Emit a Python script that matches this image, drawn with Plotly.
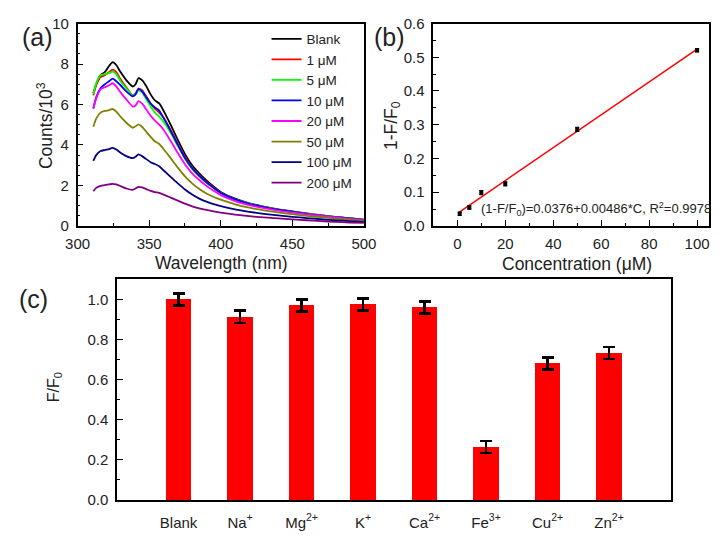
import plotly.graph_objects as go

W, H = 724, 539

# ---------------- Panel (a) data ----------------
wavelength = [311, 313, 316, 319, 322, 324.5, 327, 330, 334, 338.5, 340.5, 342.5, 345, 348, 351, 354, 357, 360,
              365, 370, 375, 380, 385, 390, 395, 400, 410, 420, 430, 440, 450, 460, 470, 480, 490, 500]
series_names = ["Blank", "1 \u03bcM", "5 \u03bcM", "10 \u03bcM", "20 \u03bcM", "50 \u03bcM", "100 \u03bcM", "200 \u03bcM"]
series_colors = ["#000000", "#FF0000", "#00FF00", "#0000FF", "#FF00FF", "#808000", "#000080", "#800080"]
blank = [6.55, 7.0, 7.45, 7.6, 7.9, 8.09, 7.95, 7.6, 7.2, 6.89, 7.0, 7.3, 7.2, 6.9, 6.5, 6.2, 6.05, 5.7,
         5.0, 4.25, 3.55, 3.0, 2.6, 2.25, 1.95, 1.68, 1.35, 1.12, 0.95, 0.82, 0.72, 0.62, 0.53, 0.45, 0.38, 0.31]
um1 = [6.45, 6.95, 7.35, 7.45, 7.6, 7.72, 7.6, 7.25, 6.85, 6.45, 6.55, 6.78, 6.7, 6.4, 6.05, 5.8, 5.6, 5.35,
       4.75, 4.05, 3.4, 2.88, 2.5, 2.17, 1.9, 1.64, 1.32, 1.1, 0.93, 0.8, 0.7, 0.6, 0.52, 0.44, 0.37, 0.3]
um5 = [6.5, 7.05, 7.45, 7.5, 7.55, 7.62, 7.5, 7.15, 6.8, 6.45, 6.5, 6.7, 6.6, 6.25, 5.9, 5.6, 5.4, 5.15,
       4.6, 3.95, 3.32, 2.82, 2.45, 2.13, 1.87, 1.62, 1.31, 1.1, 0.93, 0.8, 0.7, 0.6, 0.52, 0.44, 0.37, 0.3]
um10 = [5.8, 6.35, 6.8, 7.0, 7.15, 7.28, 7.15, 6.95, 6.65, 6.4, 6.5, 6.77, 6.65, 6.35, 6.05, 5.85, 5.7, 5.35,
        4.7, 4.0, 3.35, 2.85, 2.47, 2.15, 1.88, 1.63, 1.31, 1.09, 0.93, 0.8, 0.7, 0.6, 0.51, 0.44, 0.37, 0.3]
um20 = [5.8, 6.3, 6.75, 6.85, 6.95, 7.05, 6.9, 6.6, 6.25, 5.9, 5.95, 6.17, 6.05, 5.75, 5.45, 5.2, 5.0, 4.75,
        4.2, 3.6, 3.05, 2.6, 2.27, 1.98, 1.74, 1.52, 1.23, 1.03, 0.88, 0.76, 0.66, 0.57, 0.49, 0.42, 0.35, 0.28]
um50 = [4.9, 5.3, 5.6, 5.68, 5.72, 5.78, 5.65, 5.4, 5.1, 4.85, 4.92, 5.02, 4.9, 4.65, 4.4, 4.18, 4.05, 3.8,
        3.35, 2.88, 2.45, 2.1, 1.82, 1.6, 1.43, 1.3, 1.07, 0.9, 0.77, 0.67, 0.58, 0.5, 0.43, 0.37, 0.31, 0.25]
um100 = [3.22, 3.5, 3.7, 3.75, 3.8, 3.86, 3.78, 3.62, 3.45, 3.35, 3.42, 3.54, 3.45, 3.3, 3.15, 3.06, 2.95, 2.75,
         2.42, 2.1, 1.8, 1.55, 1.35, 1.2, 1.08, 0.98, 0.82, 0.7, 0.6, 0.52, 0.45, 0.39, 0.33, 0.28, 0.24, 0.2]
um200 = [1.71, 1.88, 1.98, 2.02, 2.05, 2.08, 2.05, 1.97, 1.85, 1.78, 1.85, 1.93, 1.9, 1.82, 1.73, 1.67, 1.63, 1.55,
         1.4, 1.25, 1.1, 0.97, 0.87, 0.79, 0.72, 0.66, 0.56, 0.48, 0.42, 0.37, 0.32, 0.28, 0.24, 0.2, 0.17, 0.15]
spectra = [blank, um1, um5, um10, um20, um50, um100, um200]

# ---------------- Panel (b) data ----------------
conc = [1, 5, 10, 20, 50, 100]
quench = [0.036, 0.055, 0.099, 0.125, 0.286, 0.521]
quench_err = [0.005, 0.005, 0.006, 0.006, 0.006, 0.005]
fit_x = [1, 100]
fit_y = [0.042, 0.524]
fit_label = "(1-F/F<sub>0</sub>)=0.0376+0.00486*C, R<sup>2</sup>=0.9978"

# ---------------- Panel (c) data ----------------
ions = ["Blank", "Na<sup>+</sup>", "Mg<sup>2+</sup>", "K<sup>+</sup>", "Ca<sup>2+</sup>",
        "Fe<sup>3+</sup>", "Cu<sup>2+</sup>", "Zn<sup>2+</sup>"]
ratio = [1.0, 0.913, 0.97, 0.975, 0.96, 0.265, 0.68, 0.733]
ratio_err = [0.03, 0.03, 0.03, 0.03, 0.03, 0.03, 0.03, 0.03]

FONT = "Liberation Sans, Arial, sans-serif"


def px(x):
    return x / W


def py(y):
    return 1 - y / H


fig = go.Figure()

for name, col, vals in zip(series_names, series_colors, spectra):
    fig.add_trace(go.Scatter(x=wavelength, y=vals, mode="lines", name=name,
                             line=dict(color=col, width=1.8, shape="spline", smoothing=0.6),
                             xaxis="x", yaxis="y"))

fig.add_trace(go.Scatter(x=fit_x, y=fit_y, mode="lines", line=dict(color="#FF0000", width=1.5),
                         showlegend=False, xaxis="x2", yaxis="y2"))
fig.add_trace(go.Scatter(x=conc, y=quench, mode="markers",
                         marker=dict(symbol="square", size=4, color="#000000"),
                         error_y=dict(type="data", array=quench_err, color="#000000", thickness=1.2, width=2),
                         showlegend=False, xaxis="x2", yaxis="y2"))

fig.add_trace(go.Bar(x=list(range(len(ions))), y=ratio, width=0.42,
                     marker=dict(color="#FF0000", line=dict(width=0)),
                     error_y=dict(type="data", array=ratio_err, color="#000000", thickness=2.5, width=6),
                     showlegend=False, xaxis="x3", yaxis="y3"))

axis_common = dict(showline=True, linecolor="black", linewidth=1.5, mirror=True, ticks="inside",
                   ticklen=6, tickwidth=1.2, tickcolor="black", showgrid=False, zeroline=False,
                   tickfont=dict(family=FONT, size=15, color="#222"))

fig.update_layout(
    width=W, height=H, margin=dict(l=0, r=0, t=0, b=0),
    paper_bgcolor="white", plot_bgcolor="white",
    font=dict(family=FONT, color="#222"),
    xaxis=dict(domain=[px(67), px(364)], range=[300, 500], dtick=50, anchor="y",
               minor=dict(ticks="inside", ticklen=3, dtick=25, tickcolor="black"),
               ticklabelstandoff=3, **axis_common),
    yaxis=dict(domain=[py(224), py(15)], range=[0, 10], dtick=2, anchor="x",
               minor=dict(ticks="inside", ticklen=3, dtick=0.5, tickcolor="black"),
               ticklabelstandoff=4, **axis_common),
    xaxis2=dict(domain=[px(436), px(722)], range=[-10, 105], dtick=20, anchor="y2",
                minor=dict(ticks="inside", ticklen=3, dtick=10, tickcolor="black"),
                ticklabelstandoff=3, **axis_common),
    yaxis2=dict(domain=[py(224), py(15)], range=[0, 0.6], dtick=0.1, tickformat=".1f", anchor="x2",
                minor=dict(ticks="inside", ticklen=3, dtick=0.05, tickcolor="black"),
                ticklabelstandoff=4, **axis_common),
    xaxis3=dict(domain=[px(108), px(682)], range=[-1, 8], anchor="y3", showline=True, linecolor="black",
                linewidth=1.5, mirror=True, ticks="", showgrid=False, zeroline=False,
                tickmode="array", tickvals=list(range(len(ions))), ticktext=ions,
                ticklabelstandoff=8, tickfont=dict(family=FONT, size=15, color="#222")),
    yaxis3=dict(domain=[py(507), py(279)], range=[0, 1.1], dtick=0.2, tickformat=".1f", anchor="x3",
                minor=dict(ticks="inside", ticklen=3, dtick=0.1, tickcolor="black"),
                ticklabelstandoff=4, **axis_common),
    legend=dict(x=px(263), y=py(15), xanchor="left", yanchor="top", bgcolor="rgba(0,0,0,0)",
                font=dict(family=FONT, size=13.5, color="#222"), tracegroupgap=0, itemwidth=30),
    bargap=0,
)

annots = [
    dict(text="Counts/10<sup>3</sup>", x=px(33), y=py(120), textangle=-90, size=17.5),
    dict(text="Wavelength (nm)", x=px(216), y=py(262), textangle=0, size=17.5),
    dict(text="1-F/F<sub>0</sub>", x=px(393), y=py(120), textangle=-90, size=17.5),
    dict(text="Concentration (\u03bcM)", x=px(585), y=py(263), textangle=0, size=17.5),
    dict(text="F/F<sub>0</sub>", x=px(43), y=py(390), textangle=-90, size=16),
    dict(text="(a)", x=px(25), y=py(29), textangle=0, size=25),
    dict(text="(b)", x=px(391), y=py(29), textangle=0, size=25),
    dict(text="(c)", x=px(21), y=py(299), textangle=0, size=25),
    dict(text=fit_label, x=px(605), y=py(207), textangle=0, size=13),
]
for a in annots:
    fig.add_annotation(text=a["text"], x=a["x"], y=a["y"], xref="paper", yref="paper",
                       xanchor="center", yanchor="middle", textangle=a["textangle"], showarrow=False,
                       font=dict(family=FONT, size=a["size"], color="#222"))

fig.write_html("out.html")
